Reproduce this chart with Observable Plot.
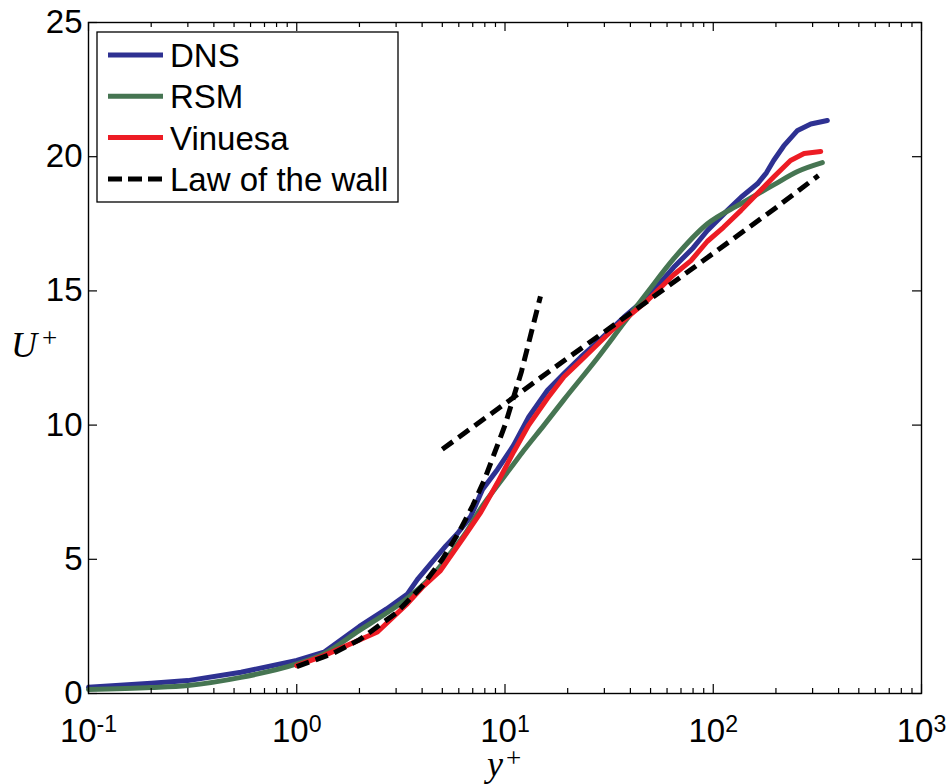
<!DOCTYPE html>
<html><head><meta charset="utf-8">
<script src="https://cdn.jsdelivr.net/npm/d3@7"></script>
<script src="https://cdn.jsdelivr.net/npm/@observablehq/plot@0.6"></script>
<style>body{margin:0;background:#fff;}</style>
</head><body><div id="chart"></div>
<script>
// ---- data ----
const dnsX = [0.1, 0.2, 0.3, 0.54, 1.0, 1.35, 2.0, 2.7, 3.4, 3.8, 4.4, 5.2, 5.9, 6.85, 7.8, 9.2, 11.0, 13.0, 16.0, 19.2, 23.1, 27.8, 37.2, 48.3, 64.6, 80, 93.8, 117, 136, 163, 180, 195, 218, 254, 294, 353];
const dnsU = [0.23, 0.38, 0.48, 0.79, 1.23, 1.54, 2.5, 3.15, 3.71, 4.25, 4.84, 5.5, 5.95, 6.6, 7.6, 8.35, 9.25, 10.3, 11.3, 11.92, 12.53, 13.09, 14.02, 14.77, 15.88, 16.6, 17.25, 18.0, 18.49, 18.99, 19.4, 19.86, 20.4, 20.98, 21.22, 21.35];

const rsmX = [0.1, 0.2, 0.3, 0.54, 1.0, 1.35, 2.0, 2.7, 3.4, 4.4, 5.5, 6.5, 7.65, 9.2, 11.0, 12.3, 15.4, 19.2, 27.8, 37.2, 48.3, 64.6, 93.8, 136, 195, 254, 334];
const rsmU = [0.15, 0.22, 0.3, 0.6, 1.1, 1.48, 2.35, 3.0, 3.55, 4.33, 5.25, 6.0, 6.9, 7.75, 8.55, 9.05, 10.0, 10.95, 12.5, 13.8, 14.95, 16.2, 17.5, 18.25, 18.95, 19.45, 19.78];

const vinX = [1.0, 1.35, 2.44, 3.4, 4.0, 4.9, 6.35, 7.65, 9.2, 11.0, 13.0, 16.0, 19.2, 23.1, 33.3, 48.3, 64.6, 78.2, 93.8, 112, 136, 163, 195, 235, 273, 328];
const vinU = [1.04, 1.41, 2.29, 3.35, 3.95, 4.58, 5.83, 6.75, 7.85, 9.0, 10.0, 11.0, 11.8, 12.4, 13.6, 14.64, 15.6, 16.13, 16.85, 17.37, 18.0, 18.63, 19.24, 19.86, 20.12, 20.19];

const viscX = [1, 1.5, 2, 3, 4, 5, 6, 7, 8, 10, 12, 14.8];
const viscU = [1, 1.5, 2, 3, 4, 5, 6, 7, 8, 10, 12, 14.8];
const logX = [5, 10, 20, 50, 100, 200, 320];
const logU = [9.1, 10.8, 12.5, 14.7, 16.4, 18.1, 19.3];

const xMajor = [0.1, 1, 10, 100, 1000];
const xMinor = [2,3,4,5,6,7,8,9].flatMap(m => [0.1, 1, 10, 100].map(p => m * p));
const yTicks = [0, 5, 10, 15, 20, 25];

const legendNames = ["DNS", "RSM", "Vinuesa", "Law of the wall"];
const colors = ["#2e3192", "#467552", "#ed1c24", "#000000"];

// ---- build tables ----
const toRows = (xs, us, seg) => xs.map((x, i) => ({x, u: us[i], seg}));
const dns = toRows(dnsX, dnsU, "dns");
const rsm = toRows(rsmX, rsmU, "rsm");
const vin = toRows(vinX, vinU, "vin");
const law = [...toRows(viscX, viscU, "visc"), ...toRows(logX, logU, "log")];

const W = 952, H = 784, mL = 88, mR = 31, mT = 22, mB = 91;
const innerW = W - mL - mR, innerH = H - mT - mB;
const LW = 5;

const chart = Plot.plot({
  width: W, height: H,
  marginLeft: mL, marginRight: mR, marginTop: mT, marginBottom: mB,
  x: {type: "log", domain: [0.1, 1000]},
  y: {domain: [0, 25]},
  style: {fontFamily: "'Liberation Sans', Arial, sans-serif", background: "white", color: "black"},
  marks: [
    Plot.line(dns, {x: "x", y: "u", stroke: colors[0], strokeWidth: LW}),
    Plot.line(rsm, {x: "x", y: "u", stroke: colors[1], strokeWidth: LW, curve: "monotone-x"}),
    Plot.line(vin, {x: "x", y: "u", stroke: colors[2], strokeWidth: LW}),
    Plot.line(law, {x: "x", y: "u", z: "seg", stroke: colors[3], strokeWidth: LW, strokeDasharray: "13,7", strokeLinecap: "butt"}),
    Plot.tickX(xMajor, {x: d => d, insetTop: innerH - 9, stroke: "black", strokeWidth: 1.2}),
    Plot.tickX(xMajor, {x: d => d, insetBottom: innerH - 9, stroke: "black", strokeWidth: 1.2}),
    Plot.tickX(xMinor, {x: d => d, insetTop: innerH - 5, stroke: "black", strokeWidth: 1.2}),
    Plot.tickX(xMinor, {x: d => d, insetBottom: innerH - 5, stroke: "black", strokeWidth: 1.2}),
    Plot.tickY(yTicks, {y: d => d, insetRight: innerW - 9, stroke: "black", strokeWidth: 1.2}),
    Plot.tickY(yTicks, {y: d => d, insetLeft: innerW - 9, stroke: "black", strokeWidth: 1.2}),
    Plot.axisX(xMajor, {tickSize: 0, tickPadding: 25, fontSize: 33, label: null,
      tickFormat: d => String(Math.round(Math.log10(d)))}),
    Plot.axisY(yTicks, {tickSize: 0, tickPadding: 6, fontSize: 33, label: null}),
    Plot.frame({stroke: "black", strokeWidth: 1.4})
  ]
});

document.getElementById("chart").appendChild(chart);
const svg = d3.select(chart);

// superscript exponents for x tick labels
svg.selectAll('g[aria-label="x-axis tick label"] text').each(function() {
  const t = d3.select(this);
  const e = t.text();
  t.text(null);
  t.append("tspan").text("10");
  t.append("tspan").attr("dy", "-0.42em").attr("font-size", "0.7em").text(e);
});

// axis labels
const serif = "'Liberation Serif', 'Times New Roman', serif";
const ul = svg.append("text").attr("x", 11).attr("y", 357).attr("text-anchor", "start")
  .style("font-family", serif).style("font-size", "36px");
ul.append("tspan").style("font-style", "italic").text("U");
ul.append("tspan").attr("dx", 5).attr("dy", -10).style("font-size", "27px").text("+");

const yl = svg.append("text").attr("x", 487).attr("y", 776).attr("text-anchor", "start")
  .style("font-family", serif).style("font-size", "36px");
yl.append("tspan").style("font-style", "italic").text("y");
yl.append("tspan").attr("dx", 3).attr("dy", -9).style("font-size", "27px").text("+");

// legend
const lg = svg.append("g");
lg.append("rect").attr("x", 97).attr("y", 32).attr("width", 301).attr("height", 170)
  .attr("fill", "white").attr("stroke", "black").attr("stroke-width", 1.3);
legendNames.forEach((name, i) => {
  const cy = 55 + i * 41.3;
  lg.append("line").attr("x1", 108).attr("x2", 163).attr("y1", cy).attr("y2", cy)
    .attr("stroke", colors[i]).attr("stroke-width", LW)
    .attr("stroke-dasharray", i === 3 ? "14,6" : null);
  lg.append("text").attr("x", 170).attr("y", cy + 12).attr("text-anchor", "start")
    .style("font-family", "'Liberation Sans', Arial, sans-serif").style("font-size", "33px")
    .attr("fill", "black").text(name);
});
</script>
</body></html>
